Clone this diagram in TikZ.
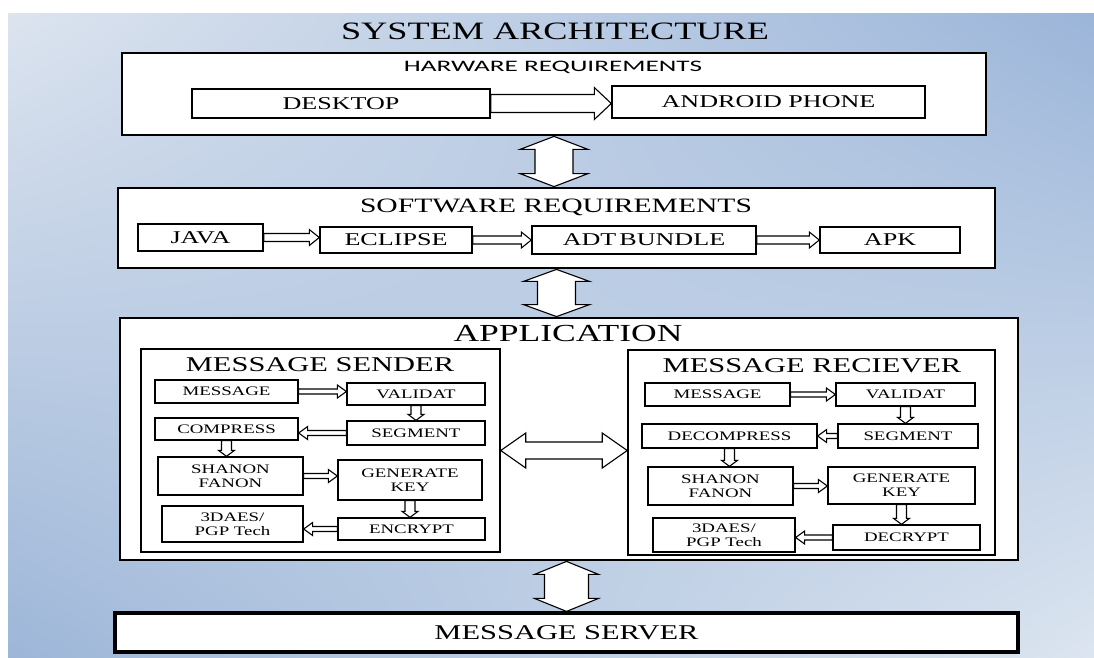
\documentclass[tikz,border=0pt]{standalone}
\usepackage{fontspec}
\setmainfont{Liberation Serif}[FakeStretch=1.45]
\newfontfamily\hwfont{Carlito}[FakeStretch=1.7]
\usetikzlibrary{calc,shadings}
\definecolor{bgUL}{HTML}{DCE4EF}
\definecolor{bgUR}{HTML}{9BB5D9}
\definecolor{bgLL}{HTML}{9DB6D8}
\definecolor{bgLR}{HTML}{DCE5F0}
\tikzset{
  outer/.style={draw=black, line width=2.8pt, fill=white, inner sep=0pt},
  grp/.style={draw=black, line width=1.5pt, fill=white, inner sep=0pt},
  tbox/.style={draw=black, line width=1.4pt, fill=white, inner sep=0pt, align=center, font=\fontsize{18}{20}\selectfont},
  ibox/.style={draw=black, line width=1.3pt, fill=white, inner sep=0pt, align=center, font=\fontsize{13}{14}\selectfont},
  blk/.style={draw=black, line width=1.1pt, fill=white, line join=miter},
  lbl/.style={inner sep=0pt, align=center},
}
% right arrow: tail, tip, shaft half, head half, head length
\newcommand{\rarr}[5]{\draw[blk] let \p1=(#1),\p2=(#2) in (\x1,\y1+#3) -- (\x2-#5,\y1+#3) -- (\x2-#5,\y1+#4) -- (\x2,\y1) -- (\x2-#5,\y1-#4) -- (\x2-#5,\y1-#3) -- (\x1,\y1-#3) -- cycle;}
\newcommand{\larr}[5]{\draw[blk] let \p1=(#1),\p2=(#2) in (\x1,\y1+#3) -- (\x2+#5,\y1+#3) -- (\x2+#5,\y1+#4) -- (\x2,\y1) -- (\x2+#5,\y1-#4) -- (\x2+#5,\y1-#3) -- (\x1,\y1-#3) -- cycle;}
\newcommand{\darr}[5]{\draw[blk] let \p1=(#1),\p2=(#2) in (\x1-#3,\y1) -- (\x1+#3,\y1) -- (\x1+#3,\y2+#5) -- (\x1+#4,\y2+#5) -- (\x1,\y2) -- (\x1-#4,\y2+#5) -- (\x1-#3,\y2+#5) -- cycle;}
\newcommand{\vdarr}[5]{\draw[blk] let \p1=(#1),\p2=(#2) in (\x1,\y1) -- (\x1+#4,\y1-#5) -- (\x1+#3,\y1-#5) -- (\x1+#3,\y2+#5) -- (\x1+#4,\y2+#5) -- (\x1,\y2) -- (\x1-#4,\y2+#5) -- (\x1-#3,\y2+#5) -- (\x1-#3,\y1-#5) -- (\x1-#4,\y1-#5) -- cycle;}
\newcommand{\hdarr}[5]{\draw[blk] let \p1=(#1),\p2=(#2) in (\x1,\y1) -- (\x1+#5,\y1+#4) -- (\x1+#5,\y1+#3) -- (\x2-#5,\y1+#3) -- (\x2-#5,\y1+#4) -- (\x2,\y1) -- (\x2-#5,\y1-#4) -- (\x2-#5,\y1-#3) -- (\x1+#5,\y1-#3) -- (\x1+#5,\y1-#4) -- cycle;}
\begin{document}
\begin{tikzpicture}[x=1pt,y=-1pt]
\useasboundingbox (0,0) rectangle (1094,657);
\fill[white] (0,0) rectangle (1094,657);
\shade[upper left=bgUL, upper right=bgUR, lower left=bgLL, lower right=bgLR] (8,13) rectangle (1094,657);

\node[lbl, font=\fontsize{25}{28}\selectfont] (title) at (555,31) {SYSTEM ARCHITECTURE};

% hardware
\node[outer, minimum width=864pt, minimum height=82pt] (hw) at (554,94) {};
\node[lbl, font=\hwfont\fontsize{16}{18}\selectfont] (hwl) at (553,67) {HARWARE REQUIREMENTS};
\node[tbox, minimum width=298pt, minimum height=29pt] (desktop) at (341,103.5) {DESKTOP};
\node[tbox, minimum width=313pt, minimum height=32pt] (android) at (768.5,102) {ANDROID PHONE};

% software
\node[outer, minimum width=877pt, minimum height=80pt] (sw) at (556.5,228) {};
\node[lbl, font=\fontsize{20.4}{24}\selectfont] (swl) at (556,207) {SOFTWARE REQUIREMENTS};
\node[tbox, minimum width=125pt, minimum height=27pt] (java) at (200.5,237.5) {JAVA};
\node[tbox, minimum width=152pt, minimum height=26pt] (eclipse) at (396,240) {ECLIPSE};
\node[tbox, minimum width=224pt, minimum height=28pt] (adt) at (644,240) {ADT\,BUNDLE};
\node[tbox, minimum width=140pt, minimum height=26pt] (apk) at (890,240) {APK};

% application
\node[outer, minimum width=898pt, minimum height=242pt] (app) at (569,439) {};
\node[lbl, font=\fontsize{24.5}{28}\selectfont] (appl) at (568,333) {APPLICATION};

\node[grp, minimum width=359pt, minimum height=203pt] (sender) at (320.5,450.5) {};
\node[lbl, font=\fontsize{21}{24}\selectfont] (senderl) at (320,365) {MESSAGE SENDER};
\node[grp, minimum width=367pt, minimum height=205pt] (receiver) at (811.5,452.5) {};
\node[lbl, font=\fontsize{21}{24}\selectfont] (receiverl) at (812,366) {MESSAGE RECIEVER};

% sender inner
\node[ibox, minimum width=143pt, minimum height=23pt] (smsg) at (226.5,391.5) {MESSAGE};
\node[ibox, minimum width=138pt, minimum height=22pt] (sval) at (416,394) {VALIDAT};
\node[ibox, minimum width=143pt, minimum height=22pt] (scomp) at (226.5,429) {COMPRESS};
\node[ibox, minimum width=138pt, minimum height=24pt] (sseg) at (416,433) {SEGMENT};
\node[ibox, minimum width=145pt, minimum height=38pt] (sshan) at (230.5,476) {SHANON\\FANON};
\node[ibox, minimum width=144pt, minimum height=40pt] (sgen) at (410,480) {GENERATE\\KEY};
\node[ibox, minimum width=141pt, minimum height=36pt] (s3d) at (232.5,524) {3DAES/\\PGP Tech};
\node[ibox, minimum width=147pt, minimum height=22pt] (senc) at (411.5,529) {ENCRYPT};

% receiver inner
\node[ibox, minimum width=145pt, minimum height=23pt] (rmsg) at (717.5,394.5) {MESSAGE};
\node[ibox, minimum width=139pt, minimum height=23pt] (rval) at (905.5,394.5) {VALIDAT};
\node[ibox, minimum width=175pt, minimum height=24pt] (rdec) at (729.5,436) {DECOMPRESS};
\node[ibox, minimum width=140pt, minimum height=24pt] (rseg) at (908,436) {SEGMENT};
\node[ibox, minimum width=145pt, minimum height=38pt] (rshan) at (720.5,486) {SHANON\\FANON};
\node[ibox, minimum width=147pt, minimum height=37pt] (rgen) at (901.5,485.5) {GENERATE\\KEY};
\node[ibox, minimum width=142pt, minimum height=34pt] (r3d) at (724,535) {3DAES/\\PGP Tech};
\node[ibox, minimum width=147pt, minimum height=25pt] (rdecr) at (906.5,537.5) {DECRYPT};

% server
\node[outer, line width=3.2pt, minimum width=903pt, minimum height=39pt, font=\fontsize{21}{24}\selectfont] (server) at (566.5,632.5) {MESSAGE SERVER};

% connectors between layers
\vdarr{hw.south}{sw.north}{19pt}{34pt}{13pt}
\vdarr{sw.south}{app.north}{19pt}{33pt}{12pt}
\vdarr{server.north |- app.south}{server.north}{22pt}{32pt}{13pt}

% hardware / software chains
\rarr{desktop.east}{android.west |- desktop.east}{9pt}{16pt}{17pt}
\rarr{java.east}{eclipse.west |- java.east}{4pt}{8pt}{10pt}
\rarr{eclipse.east}{adt.west |- eclipse.east}{4pt}{8pt}{10pt}
\rarr{adt.east}{apk.west |- adt.east}{4pt}{8pt}{10pt}

% sender <-> receiver
\hdarr{sender.east}{receiver.west}{8.5pt}{17.5pt}{25pt}

% sender chain
\rarr{smsg.east}{sval.west |- smsg.east}{2.5pt}{6.5pt}{9pt}
\darr{sval.south}{sseg.north}{5pt}{8pt}{6pt}
\larr{sseg.west}{scomp.east |- sseg.west}{2.5pt}{6.5pt}{9pt}
\darr{scomp.south}{sshan.north}{5pt}{8pt}{6pt}
\rarr{sshan.east}{sgen.west |- sshan.east}{2.5pt}{6.5pt}{9pt}
\darr{sgen.south}{senc.north}{5pt}{8pt}{6pt}
\larr{senc.west}{s3d.east |- senc.west}{2.5pt}{6.5pt}{9pt}

% receiver chain
\rarr{rmsg.east}{rval.west |- rmsg.east}{2.5pt}{6.5pt}{9pt}
\darr{rval.south}{rseg.north}{5pt}{8pt}{6pt}
\larr{rseg.west}{rdec.east |- rseg.west}{2.5pt}{6.5pt}{9pt}
\darr{rdec.south}{rshan.north}{5pt}{8pt}{6pt}
\rarr{rshan.east}{rgen.west |- rshan.east}{2.5pt}{6.5pt}{9pt}
\darr{rgen.south}{rdecr.north}{5pt}{8pt}{6pt}
\larr{rdecr.west}{r3d.east |- rdecr.west}{2.5pt}{6.5pt}{9pt}
\end{tikzpicture}
\end{document}
